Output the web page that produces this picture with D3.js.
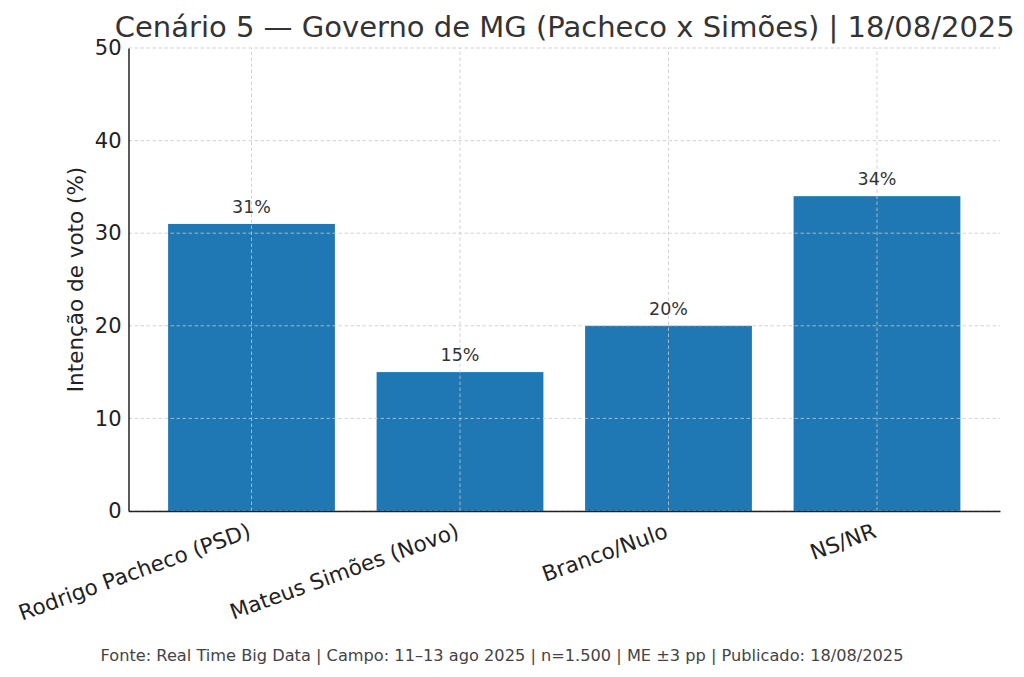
<html>
<head>
<meta charset="UTF-8">
<script src="https://d3js.org/d3.v7.min.js"></script>
<style>
  body { margin: 0; background: #fff; font-family: 'DejaVu Sans', sans-serif; }
</style>
</head>
<body>
<script>
// poll values
var categories = ["Rodrigo Pacheco (PSD)", "Mateus Simões (Novo)", "Branco/Nulo", "NS/NR"];
var values = [31, 15, 20, 34];
var yTicks = [0, 10, 20, 30, 40, 50];
var title = "Cenário 5 — Governo de MG (Pacheco x Simões) | 18/08/2025";
var yLabel = "Intenção de voto (%)";
var footer = "Fonte: Real Time Big Data | Campo: 11–13 ago 2025 | n=1.500 | ME ±3 pp | Publicado: 18/08/2025";

var W = 1024, H = 677;
var margin = {top: 48, right: 24, bottom: 166, left: 128.5};

var svg = d3.select("body").append("svg")
  .attr("width", W).attr("height", H)
  .style("font-family", "'DejaVu Sans', sans-serif");

var x = d3.scaleLinear()
  .domain([-0.59, categories.length - 1 + 0.59])
  .range([margin.left, W - margin.right]);
var y = d3.scaleLinear()
  .domain([0, 50])
  .range([H - margin.bottom, margin.top]);

var barW = x(0.8) - x(0);

// bars
svg.append("g").selectAll("rect")
  .data(values)
  .join("rect")
    .attr("x", function(d, i) { return x(i) - barW / 2; })
    .attr("y", function(d) { return y(d); })
    .attr("width", barW)
    .attr("height", function(d) { return y(0) - y(d); })
    .attr("fill", "#1f77b4");

// grid (drawn over the bars, like the original)
var grid = svg.append("g")
  .attr("stroke", "#c8c8c8")
  .attr("stroke-opacity", 0.8)
  .attr("stroke-dasharray", "3.5,2.5")
  .attr("stroke-width", 1);
grid.selectAll("line.h")
  .data(yTicks)
  .join("line")
    .attr("class", "h")
    .attr("x1", x.range()[0]).attr("x2", x.range()[1])
    .attr("y1", function(d) { return y(d); })
    .attr("y2", function(d) { return y(d); });
grid.selectAll("line.v")
  .data(categories)
  .join("line")
    .attr("class", "v")
    .attr("x1", function(d, i) { return x(i); })
    .attr("x2", function(d, i) { return x(i); })
    .attr("y1", y.range()[0]).attr("y2", y.range()[1]);

// value labels
svg.append("g").selectAll("text")
  .data(values)
  .join("text")
    .attr("x", function(d, i) { return x(i); })
    .attr("y", function(d) { return y(d) - 11; })
    .attr("text-anchor", "middle")
    .style("font-size", "17.5px")
    .style("fill", "#333")
    .text(function(d) { return d + "%"; });

// y axis
var yAxis = svg.append("g")
  .attr("transform", "translate(" + margin.left + ",0)")
  .call(d3.axisLeft(y).tickValues(yTicks).tickSize(0).tickPadding(7));
yAxis.select(".domain").attr("stroke", "#222").attr("stroke-width", 1.5);
yAxis.selectAll("text").style("font-size", "21px").style("fill", "#222")
  .style("font-family", "'DejaVu Sans', sans-serif");

// x axis
var xAxis = svg.append("g")
  .attr("transform", "translate(0," + y(0) + ")")
  .call(d3.axisBottom(x).tickValues(d3.range(categories.length)).tickSize(0)
    .tickFormat(function(i) { return categories[i]; }));
xAxis.select(".domain").attr("stroke", "#222").attr("stroke-width", 1.5);
xAxis.selectAll("text")
  .style("font-size", "21.5px").style("fill", "#222")
  .style("font-family", "'DejaVu Sans', sans-serif")
  .attr("text-anchor", "end")
  .attr("dy", null)
  .attr("y", 0)
  .attr("transform", "translate(0,26) rotate(-20)");

// y label
svg.append("text")
  .attr("transform", "translate(83," + ((y(0) + y(50)) / 2) + ") rotate(-90)")
  .attr("text-anchor", "middle")
  .style("font-size", "21.5px")
  .style("fill", "#222")
  .text(yLabel);

// title
svg.append("text")
  .attr("x", (x.range()[0] + x.range()[1]) / 2 + 0.5)
  .attr("y", 37)
  .attr("text-anchor", "middle")
  .style("font-size", "29px")
  .style("fill", "#333")
  .text(title);

// footer
svg.append("text")
  .attr("x", W / 2 - 10)
  .attr("y", 661)
  .attr("text-anchor", "middle")
  .style("font-size", "16.2px")
  .style("fill", "#444")
  .text(footer);
</script>
</body>
</html>
